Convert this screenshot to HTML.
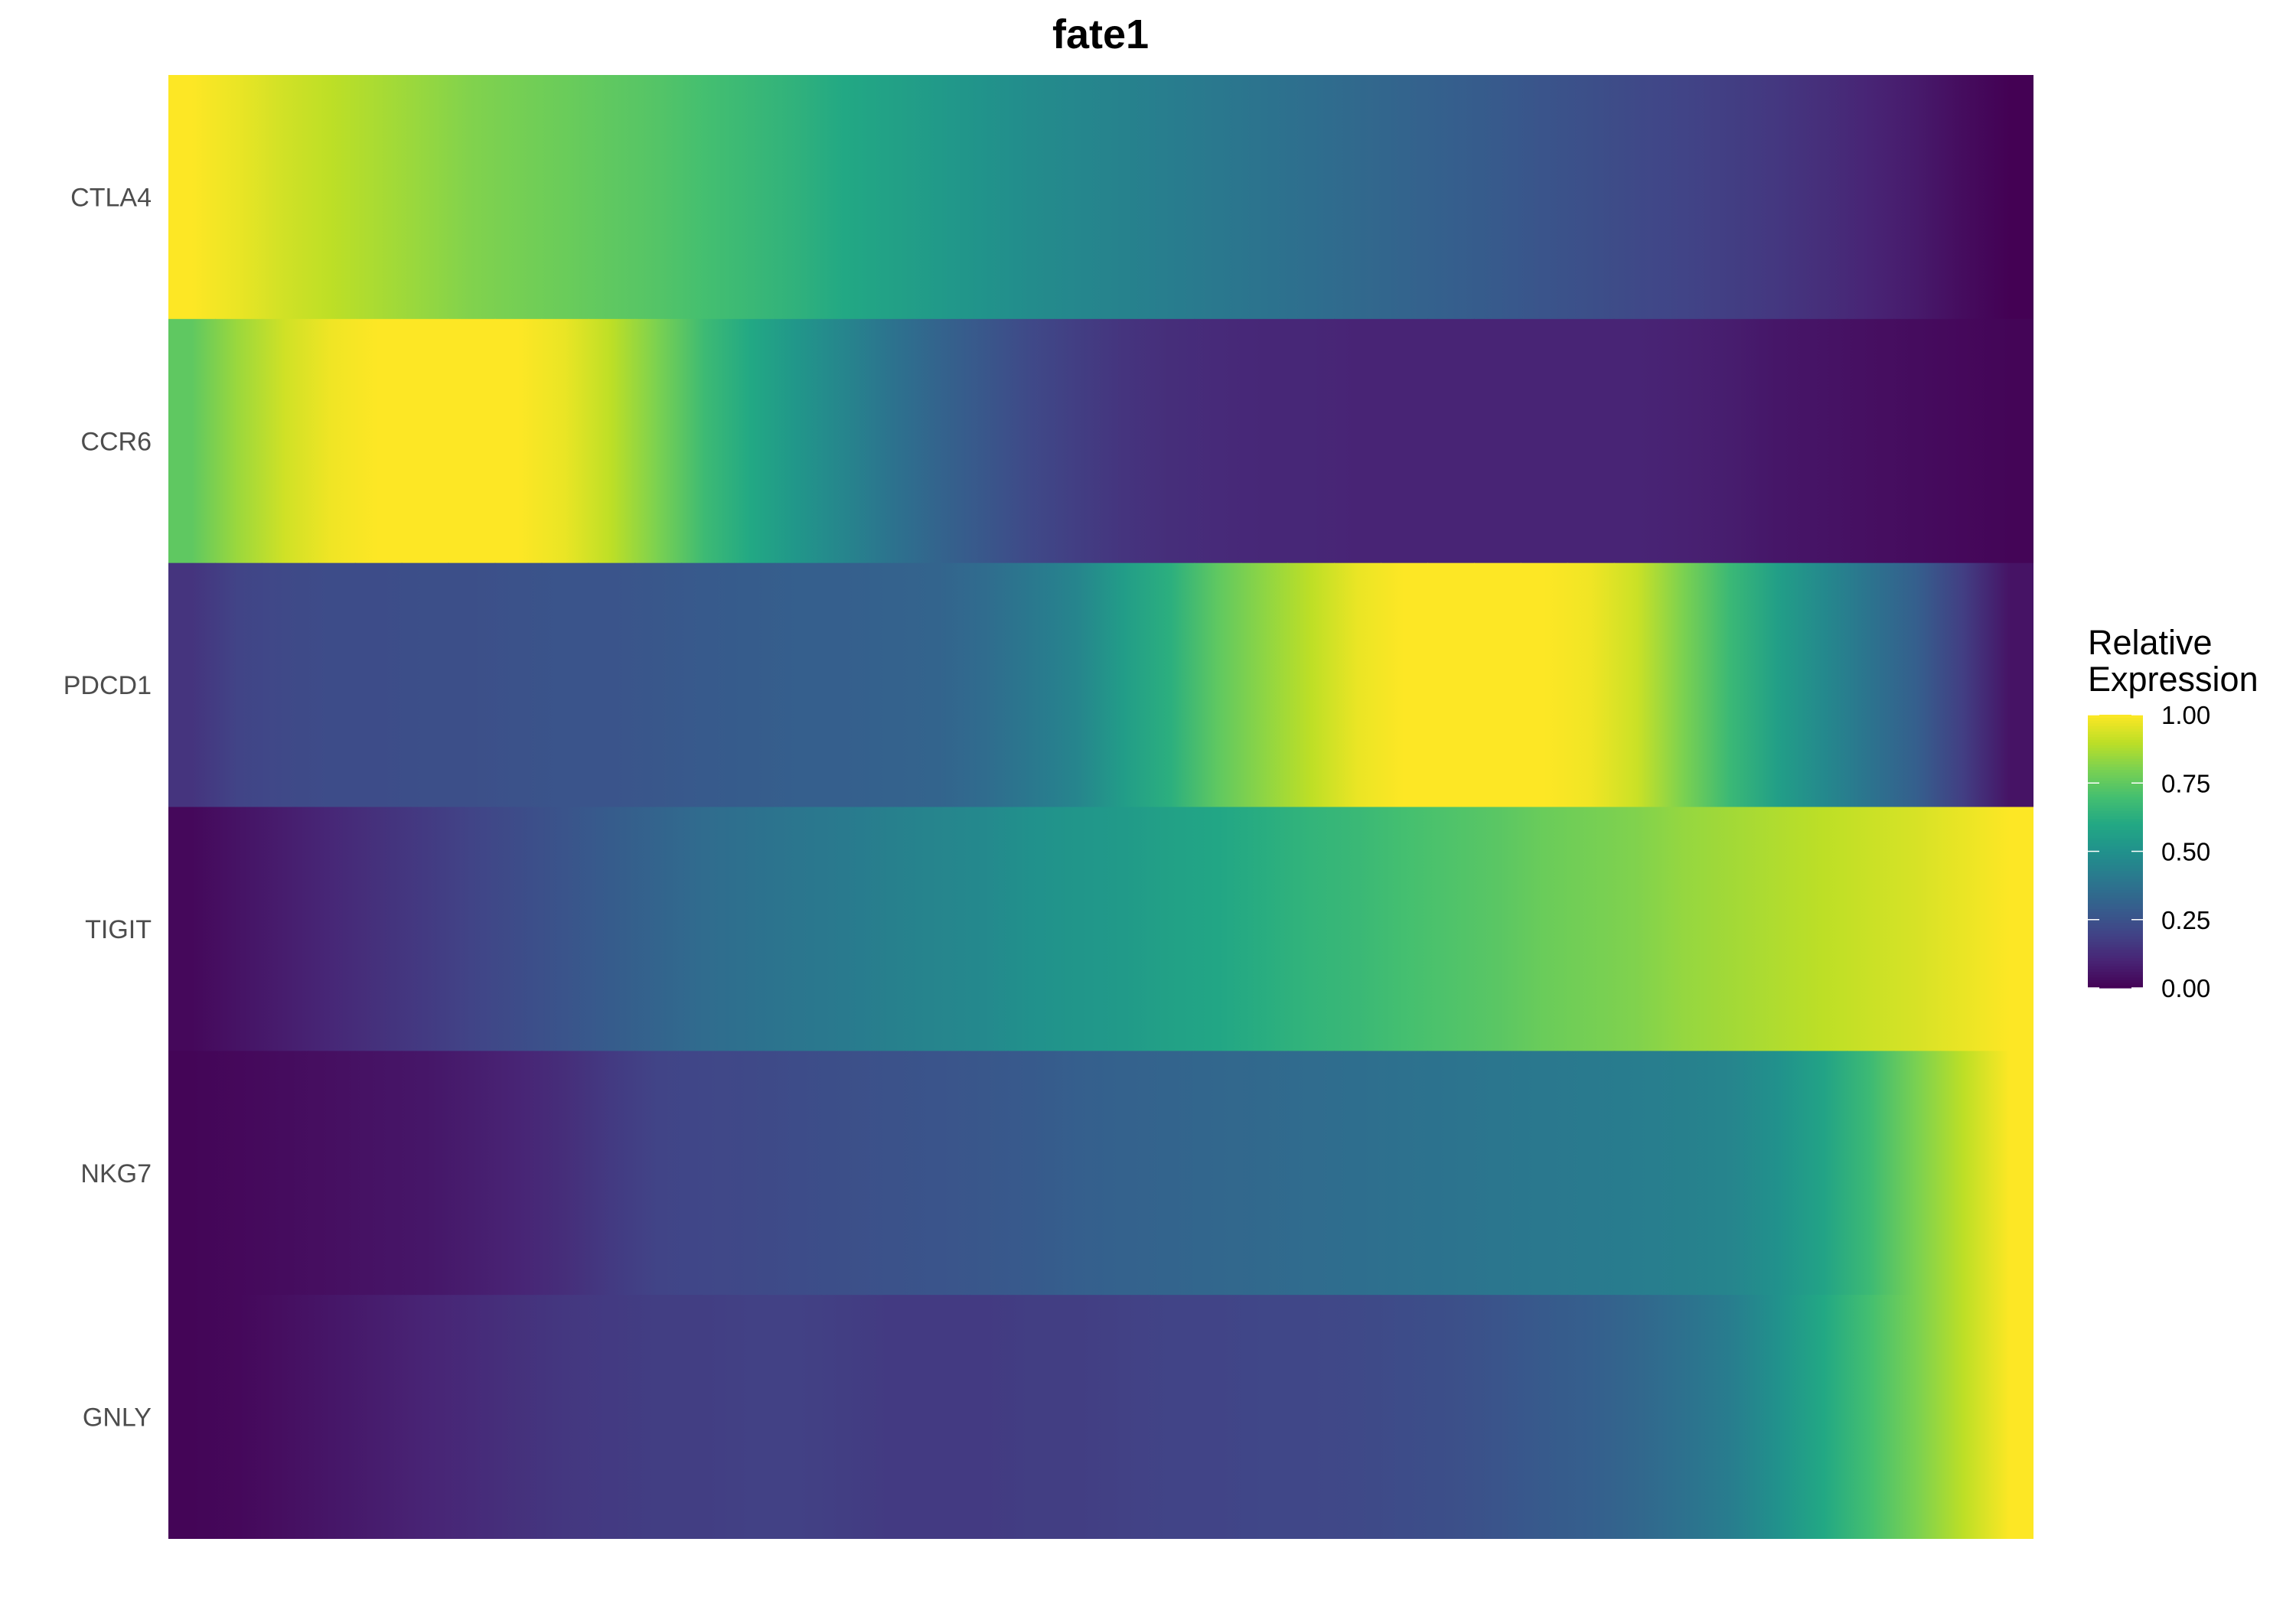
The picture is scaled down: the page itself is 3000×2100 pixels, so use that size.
<!DOCTYPE html>
<html><head><meta charset="utf-8"><style>
html,body{margin:0;padding:0;background:#fff}
svg{display:block}
text{font-family:"Liberation Sans",sans-serif}
</style></head><body>
<svg id="chart" width="3000" height="2100" viewBox="0 0 3000 2100">
<defs id="defs"></defs>
<text x="1438" y="63" text-anchor="middle" font-size="54" font-weight="bold" fill="#000">fate1</text>
<g id="cells"></g>
<g id="ylabels"></g>
<g id="legend">
<text x="2728" y="855" font-size="45" fill="#000">Relative</text>
<text x="2728" y="903" font-size="45" fill="#000">Expression</text>
</g>
</svg>
<script>
const genes = ["CTLA4","CCR6","PDCD1","TIGIT","NKG7","GNLY"];
const ctla4 = [1.0,0.97,0.93,0.9,0.87,0.84,0.81,0.79,0.77,0.75,0.73,0.7,0.67,0.64,0.6,0.57,0.54,0.51,0.48,0.46,0.44,0.42,0.4,0.38,0.36,0.34,0.32,0.3,0.28,0.26,0.24,0.22,0.2,0.18,0.16,0.13,0.1,0.07,0.03,0.0];
const ccr6 = [0.75,0.85,0.93,0.98,1,1,1,1,0.97,0.9,0.8,0.68,0.6,0.52,0.45,0.38,0.32,0.27,0.22,0.18,0.15,0.13,0.12,0.11,0.11,0.1,0.1,0.1,0.1,0.1,0.1,0.1,0.09,0.08,0.06,0.05,0.04,0.03,0.02,0.01];
const pdcd1 = [0.15,0.2,0.22,0.23,0.23,0.24,0.24,0.25,0.26,0.26,0.27,0.28,0.29,0.3,0.3,0.31,0.32,0.35,0.4,0.45,0.55,0.63,0.75,0.83,0.9,0.97,1,1,1,1,0.98,0.92,0.8,0.67,0.56,0.47,0.38,0.3,0.18,0.05];
const tigit = [0.02,0.05,0.08,0.11,0.14,0.17,0.2,0.23,0.26,0.29,0.32,0.35,0.37,0.39,0.41,0.43,0.45,0.47,0.5,0.52,0.54,0.57,0.59,0.62,0.65,0.67,0.7,0.72,0.74,0.77,0.79,0.81,0.84,0.86,0.88,0.9,0.92,0.94,0.97,1];
const nkg7 = [0.01,0.02,0.03,0.04,0.05,0.06,0.08,0.1,0.13,0.17,0.2,0.21,0.22,0.23,0.24,0.25,0.26,0.27,0.28,0.3,0.31,0.32,0.33,0.34,0.35,0.36,0.37,0.38,0.39,0.4,0.41,0.42,0.43,0.45,0.5,0.58,0.68,0.8,0.9,1.0];
const gnly = [0.01,0.02,0.04,0.06,0.08,0.1,0.12,0.14,0.16,0.17,0.18,0.18,0.19,0.19,0.18,0.17,0.17,0.17,0.18,0.18,0.19,0.2,0.2,0.21,0.21,0.22,0.23,0.24,0.26,0.28,0.3,0.33,0.37,0.42,0.5,0.6,0.7,0.8,0.9,1.0];
const legendTicks = [0, 0.25, 0.5, 0.75, 1];
const legendLabels = ["0.00","0.25","0.50","0.75","1.00"];

const rows = [ctla4, ccr6, pdcd1, tigit, nkg7, gnly];
const NS = "http://www.w3.org/2000/svg";
const L = 220, R = 2657, T = 98, B = 2011;
const VIR = ["#440154","#482475","#414487","#355f8d","#2a788e","#21918c","#22a884","#44bf70","#7ad151","#bddf26","#fde725"];
function hex(h){return [1,3,5].map(i=>parseInt(h.substr(i,2),16));}
function viridis(v){
  v = Math.max(0, Math.min(1, v));
  const p = v*(VIR.length-1), i = Math.min(Math.floor(p), VIR.length-2), f = p-i;
  const a = hex(VIR[i]), b = hex(VIR[i+1]);
  return "rgb("+a.map((c,k)=>Math.round(c+(b[k]-c)*f)).join(",")+")";
}
const nCols = ctla4.length;
function xScale(i){ return L + (R-L)*i/nCols; }
function yScale(r){ return T + (B-T)*r/genes.length; }

const defs = document.getElementById("defs");
const cells = document.getElementById("cells");
rows.forEach((vals, r) => {
  const g = document.createElementNS(NS, "linearGradient");
  g.setAttribute("id", "grad" + r);
  g.setAttribute("gradientUnits", "userSpaceOnUse");
  g.setAttribute("x1", L); g.setAttribute("x2", R);
  g.setAttribute("y1", 0); g.setAttribute("y2", 0);
  vals.forEach((v, i) => {
    const st = document.createElementNS(NS, "stop");
    st.setAttribute("offset", (i + 0.5) / vals.length);
    st.setAttribute("stop-color", viridis(v));
    g.appendChild(st);
  });
  defs.appendChild(g);
  vals.forEach((v, i) => {
    const rect = document.createElementNS(NS, "rect");
    const x0 = xScale(i), x1 = xScale(i+1);
    rect.setAttribute("x", x0);
    rect.setAttribute("y", yScale(r));
    rect.setAttribute("width", (x1-x0) + (i < vals.length-1 ? 1 : 0));
    rect.setAttribute("height", yScale(r+1)-yScale(r) + (r < rows.length-1 ? 1 : 0));
    rect.setAttribute("fill", "url(#grad" + r + ")");
    rect.setAttribute("data-value", v);
    
    
    cells.appendChild(rect);
  });
});
const yl = document.getElementById("ylabels");
genes.forEach((g, r) => {
  const t = document.createElementNS(NS, "text");
  t.setAttribute("x", 198);
  t.setAttribute("y", (yScale(r)+yScale(r+1))/2 + 12);
  t.setAttribute("text-anchor", "end");
  t.setAttribute("font-size", "34");
  t.setAttribute("fill", "#4d4d4d");
  t.textContent = g;
  
  
  yl.appendChild(t);
});
const leg = document.getElementById("legend");
const CBX = 2728, CBW = 72, CBT = 934, CBB = 1291;
function lY(v){ return CBB - (CBB-CBT)*v; }
const steps = 100;
for (let s = 0; s < steps; s++) {
  const v0 = s/steps, v1 = (s+1)/steps;
  const rect = document.createElementNS(NS, "rect");
  rect.setAttribute("x", CBX);
  rect.setAttribute("y", lY(v1));
  rect.setAttribute("width", CBW);
  rect.setAttribute("height", lY(v0)-lY(v1)+0.6);
  rect.setAttribute("fill", viridis((v0+v1)/2));
  
  
  leg.appendChild(rect);
}
legendTicks.forEach((v, k) => {
  const y = lY(v);
  [[CBX, CBX+15],[CBX+CBW-15, CBX+CBW]].forEach(seg => {
    const ln = document.createElementNS(NS, "line");
    ln.setAttribute("x1", seg[0]); ln.setAttribute("x2", seg[1]);
    ln.setAttribute("y1", y); ln.setAttribute("y2", y);
    ln.setAttribute("stroke", "#fff"); ln.setAttribute("stroke-width", "1.5");
    
    
    leg.appendChild(ln);
  });
  const t = document.createElementNS(NS, "text");
  t.setAttribute("x", 2824);
  t.setAttribute("y", y + 12);
  t.setAttribute("font-size", "33");
  t.setAttribute("fill", "#000");
  t.textContent = legendLabels[k];
  
  
  leg.appendChild(t);
});
</script>
</body></html>
